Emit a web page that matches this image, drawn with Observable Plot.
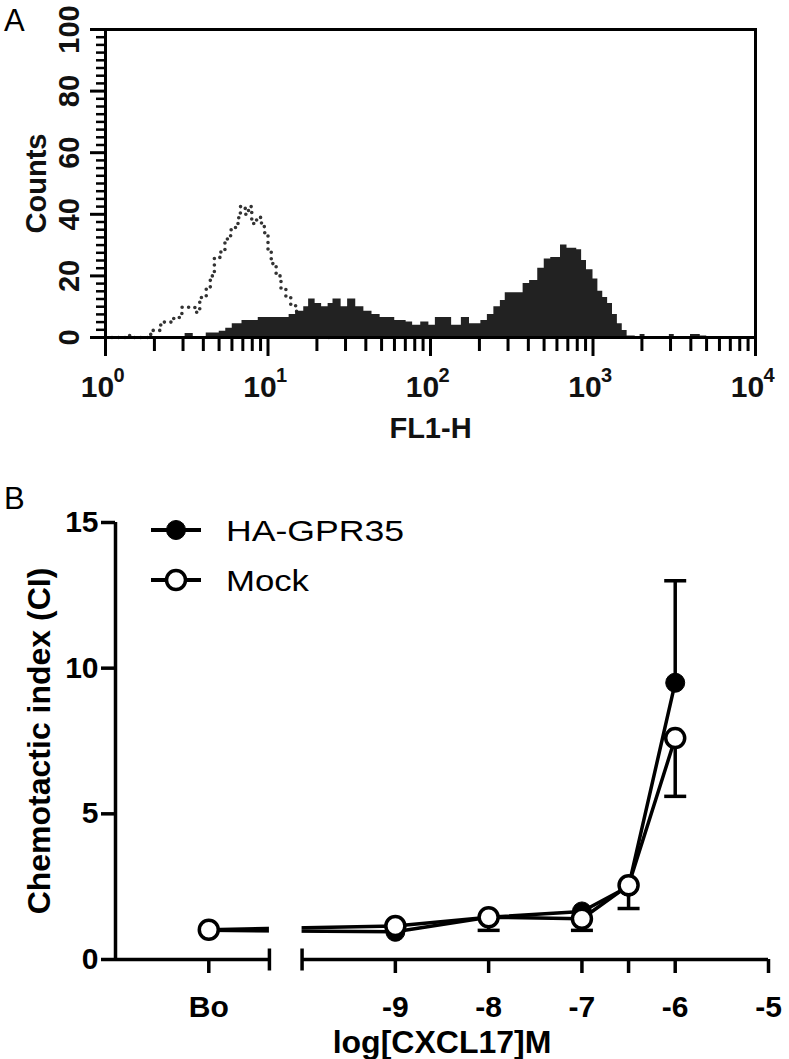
<!DOCTYPE html>
<html>
<head>
<meta charset="utf-8">
<script src="https://cdn.jsdelivr.net/npm/d3@7"></script>
<script src="https://cdn.jsdelivr.net/npm/@observablehq/plot@0.6"></script>
<style>
  html, body { margin: 0; padding: 0; background: #fff; }
  #wrap { position: relative; width: 789px; height: 1059px; overflow: hidden; font-family: "Liberation Sans", Arial, sans-serif; color: #000; }
  .panel { position: absolute; left: 0; }
  .plabel { position: absolute; font-size: 31px; font-family: "Liberation Sans", Arial, sans-serif; line-height: 1; }
  svg { overflow: visible; }
</style>
</head>
<body>
<div id="wrap">
  <div class="plabel" style="left:4px; top:5px;">A</div>
  <div class="plabel" style="left:4px; top:483px;">B</div>
  <div id="panelA" class="panel" style="top:0px;"></div>
  <div id="panelB" class="panel" style="top:460px;"></div>
  <div id="legendB" class="panel" style="top:0px;"></div>
</div>
<script>
// ---------- Panel A data (flow cytometry histogram, FL1-H on log axis) ----------
// isotype control (dotted outline): log10(FL1-H) bin starts and counts
const controlExp   = [0.00, 0.13, 0.17, 0.26, 0.29, 0.34, 0.40, 0.42, 0.47, 0.52, 0.55, 0.58, 0.62, 0.645, 0.67, 0.71, 0.735, 0.77, 0.80, 0.82, 0.83, 0.86, 0.88, 0.90, 0.93, 0.96, 0.98, 1.00, 1.02, 1.05, 1.08, 1.11, 1.14, 1.17, 1.20, 1.23, 1.26, 1.29, 1.32, 1.36, 1.40];
const controlCount = [0,    0.6,  0,    1,    2.3,  5,    5,    6.5,  9.8,  9.8,  8.2,  13,   15.8, 20,    26,   28.5, 32,    35,   37,   40,   42.5, 40,   42.5, 37,   39,   36,   33,   28,   24,   20,   16,   13,   10.5, 8.5,  6.5,  4.5,  3,    1.5,  0.5,  0,    0];
// HA-GPR35 stained cells (filled histogram)
const gprExp   = [0.00, 0.49, 0.54, 0.62, 0.70, 0.74, 0.78, 0.84, 0.94, 1.13, 1.17, 1.22, 1.25, 1.29, 1.33, 1.37, 1.40, 1.45, 1.49, 1.54, 1.59, 1.64, 1.69, 1.78, 1.85, 1.89, 1.94, 1.99, 2.03, 2.13, 2.19, 2.24, 2.31, 2.35, 2.39, 2.43, 2.46, 2.57, 2.61, 2.66, 2.70, 2.74, 2.80, 2.84, 2.90, 2.93, 2.96, 3.00, 3.03, 3.06, 3.09, 3.12, 3.15, 3.18, 3.21, 3.26, 3.29, 3.32, 3.47, 3.50, 3.60, 3.66, 3.70, 4.00];
const gprCount = [0,    1.3,  0.3,  1.5,  2,    3,    4.5,  5.5,  6.5,  7.5,  8.5,  10,   12.5, 11,   10,   11,   12.5, 10,   12.5, 10,   8.5,  7.5,  6.5,  5.5,  5,    4,    5,    4,    6.5,  4,    6.5,  4.5,  5.5,  7.5,  10,   12,   14.5, 17.5, 18.5, 22.5, 25.5, 26,   30,   29,   28.5, 25,   22,   19,   15,   13,   11,   7.5,  4.5,  2.3,  0.5,  0,    1,    0,    1,    0,    1,    0.5,  0,    0];
const xTickExponents = [0, 1, 2, 3, 4];
const yTicksA = [0, 20, 40, 60, 80, 100];
const xLabelA = "FL1-H";
const yLabelA = "Counts";

// ---------- Panel B data (chemotaxis) ----------
const concLabels = ["Bo", "-9", "-8", "-7", "-6.5", "-6"];
const concValues = [-11, -9, -8, -7, -6.5, -6];   // "Bo" (buffer only) placed left of the axis break
const haGpr35 = [1.0, 0.95, 1.45, 1.65, 2.5, 9.5];
const mock    = [1.02, 1.15, 1.45, 1.4, 2.55, 7.6];
const errConc  = [-8, -7, -6.5, -6, -6];
const errMean  = [1.45, 1.4, 2.55, 9.5, 7.6];
const errBound = [1.0, 1.0, 1.75, 13.0, 5.6];
const xTicksB = [-11, -9, -8, -7, -6.5, -6, -5];
const xTickLabelsB = ["Bo", "-9", "-8", "-7", "", "-6", "-5"];
const yTicksB = [0, 5, 10, 15];
const seriesNames = ["HA-GPR35", "Mock"];
const xLabelB = "log[CXCL17]M";
const yLabelB = "Chemotactic index (CI)";
const xDomainB = [-12, -5];
const breakLeft = -10.35, breakRight = -10;

const FONT = "'Liberation Sans', Arial, sans-serif";

// ---------- Panel A ----------
const controlData = controlExp.map((e, i) => ({x: 10 ** e, count: controlCount[i]}));
const gprData = gprExp.map((e, i) => ({x: 10 ** e, count: gprCount[i]}));
const majorX = xTickExponents.map(e => 10 ** e);
const minorX = [];
for (let e = 0; e < 4; e++) for (let m = 2; m <= 9; m++) minorX.push(m * 10 ** e);
const minorY = d3.range(0, 100.01, 2.5).filter(v => v % 20 !== 0);

const plotA = Plot.plot({
  width: 789, height: 460,
  marginLeft: 105, marginRight: 34, marginTop: 29, marginBottom: 123,
  x: {type: "log", domain: [1, 1e4]},
  y: {domain: [0, 100]},
  style: {fontFamily: FONT, background: "transparent", overflow: "visible", color: "#000"},
  marks: [
    Plot.line(controlData, {x: "x", y: "count", curve: "step-after", stroke: "#333", strokeWidth: 3.6, strokeDasharray: "0,6.5", strokeLinecap: "round"}),
    Plot.areaY(gprData, {x: "x", y: "count", curve: "step-after", fill: "#222"}),
    Plot.frame({stroke: "#000", strokeWidth: 3}),
    Plot.axisX({ticks: majorX, tickSize: 19, strokeWidth: 3, tickFormat: () => "", label: null}),
    Plot.axisX({ticks: minorX, tickSize: 14, strokeWidth: 3, tickFormat: () => "", label: null}),
    Plot.axisY({ticks: yTicksA, tickSize: 15, strokeWidth: 3, tickFormat: () => "", label: null}),
    Plot.axisY({ticks: minorY, tickSize: 9, strokeWidth: 2.5, tickFormat: () => "", label: null}),
    Plot.text(xTickExponents, {x: d => 10 ** d, text: () => "10", frameAnchor: "bottom", dy: 59, dx: -8, lineAnchor: "bottom", textAnchor: "middle", fontSize: 30, fontWeight: "bold", fill: "#111"}),
    Plot.text(xTickExponents, {x: d => 10 ** d, text: d => String(d), frameAnchor: "bottom", dy: 44, dx: 8, lineAnchor: "bottom", textAnchor: "start", fontSize: 20, fontWeight: "bold", fill: "#111"}),
    Plot.text(yTicksA, {y: d => d, text: d => String(d), frameAnchor: "left", dx: -27, rotate: -90, lineAnchor: "bottom", textAnchor: "middle", fontSize: 29, fontWeight: "bold", fill: "#111"}),
    Plot.text([yLabelA], {text: d => d, frameAnchor: "left", dx: -60, rotate: -90, lineAnchor: "bottom", textAnchor: "middle", fontSize: 29, fontWeight: "bold", fill: "#111"}),
    Plot.text([xLabelA], {text: d => d, frameAnchor: "bottom", dy: 100, lineAnchor: "bottom", textAnchor: "middle", fontSize: 29, fontWeight: "bold", fill: "#111"})
  ]
});
document.getElementById("panelA").appendChild(plotA);

// ---------- Panel B ----------
const lineData = [];
concValues.forEach((c, i) => {
  lineData.push({conc: c, ci: haGpr35[i], series: seriesNames[0]});
});
concValues.forEach((c, i) => {
  lineData.push({conc: c, ci: mock[i], series: seriesNames[1]});
});
const errData = errConc.map((c, i) => ({conc: c, mean: errMean[i], bound: errBound[i]}));
const axisSegments = [{x1: xDomainB[0], x2: breakLeft}, {x1: breakRight, x2: xDomainB[1]}];

const capSymbol = {draw(ctx, size) { const w = Math.sqrt(size / Math.PI); ctx.moveTo(-w, 0); ctx.lineTo(w, 0); }};
const vlineSymbol = {draw(ctx, size) { const w = Math.sqrt(size / Math.PI); ctx.moveTo(0, -w); ctx.lineTo(0, w); }};

const plotB = Plot.plot({
  width: 789, height: 599,
  marginLeft: 115, marginRight: 21, marginTop: 62, marginBottom: 100,
  x: {domain: xDomainB},
  y: {domain: [0, 15]},
  style: {fontFamily: FONT, background: "transparent", overflow: "visible", color: "#000"},
  marks: [
    Plot.line(lineData, {x: "conc", y: "ci", z: "series", stroke: "#000", strokeWidth: 3.5}),
    Plot.rect([0], {x1: breakLeft, x2: breakRight, fill: "#fff"}),
    Plot.ruleX(errData, {x: "conc", y1: "mean", y2: "bound", stroke: "#000", strokeWidth: 3.5}),
    Plot.dot(errData, {x: "conc", y: "bound", symbol: capSymbol, r: 11, stroke: "#000", strokeWidth: 3.5}),
    Plot.dot(lineData.filter(d => d.series === seriesNames[0]), {x: "conc", y: "ci", r: 9.5, fill: "#000", stroke: "#000", strokeWidth: 1}),
    Plot.dot(lineData.filter(d => d.series === seriesNames[1]), {x: "conc", y: "ci", r: 9.5, fill: "#fff", stroke: "#000", strokeWidth: 3.5}),
    Plot.ruleY(axisSegments, {y: 0, x1: "x1", x2: "x2", stroke: "#000", strokeWidth: 3.5}),
    Plot.ruleX([xDomainB[0]], {y1: 0, y2: 15, stroke: "#000", strokeWidth: 3.5}),
    Plot.dot([breakLeft, breakRight], {x: d => d, y: 0, symbol: vlineSymbol, r: 11, stroke: "#000", strokeWidth: 3.5}),
    Plot.axisX({ticks: xTicksB, tickSize: 14, tickPadding: 22, strokeWidth: 3.5, tickFormat: d => xTickLabelsB[xTicksB.indexOf(d)], fontSize: 30, fontWeight: "bold", label: null}),
    Plot.axisY({ticks: yTicksB, tickSize: 14, tickPadding: 3, strokeWidth: 3.5, tickFormat: d => String(d), fontSize: 30, fontWeight: "bold", label: null}),
    Plot.text([yLabelB], {text: d => d, frameAnchor: "left", dx: -66, rotate: -90, lineAnchor: "bottom", textAnchor: "middle", fontSize: 32, fontWeight: "bold"}),
    Plot.text([xLabelB], {text: d => d, frameAnchor: "bottom", dy: 93, lineAnchor: "bottom", textAnchor: "middle", fontSize: 32, fontWeight: "bold"})
  ]
});
document.getElementById("panelB").appendChild(plotB);

// ---------- Legend (panel B, top-left inside plot) ----------
const legendRowsY = [530, 580];
const legendText = [178, 83];
const leg = d3.select("#legendB").append("svg").attr("width", 789).attr("height", 1059)
  .style("position", "absolute").style("left", 0).style("top", 0);
seriesNames.forEach((name, i) => {
  const y = legendRowsY[i];
  leg.append("line").attr("x1", 151).attr("x2", 201).attr("y1", y).attr("y2", y)
    .attr("stroke", "#000").attr("stroke-width", 4);
  leg.append("circle").attr("cx", 176).attr("cy", y).attr("r", 9.5)
    .attr("fill", i === 0 ? "#000" : "#fff").attr("stroke", "#000").attr("stroke-width", i === 0 ? 1 : 3.5);
  leg.append("text").attr("x", 226).attr("y", y + 11).text(name)
    .attr("font-family", FONT).attr("font-size", 30)
    .attr("textLength", legendText[i]).attr("lengthAdjust", "spacingAndGlyphs");
});
</script>
</body>
</html>
